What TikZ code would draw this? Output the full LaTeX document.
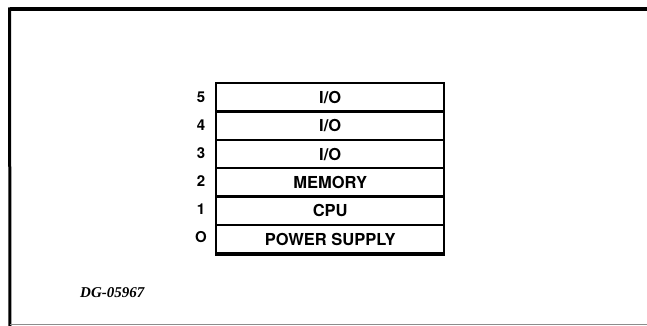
\documentclass[tikz,border=0pt]{standalone}
\usepackage{fontspec}
\setmainfont{TeX Gyre Heros}
\newfontfamily\dgfont{Liberation Serif}
\begin{document}
\begin{tikzpicture}[x=1pt,y=-1pt,
  slot/.style={draw, line width=2.4pt, minimum width=228pt, minimum height=28.33pt,
    inner sep=0pt, anchor=north west, font=\fontsize{16.5}{17}\selectfont\bfseries},
  num/.style={font=\fontsize{15}{15}\selectfont\bfseries, inner sep=0pt},
  frameline/.style={line width=3pt}
]
\useasboundingbox (0,0) rectangle (647,326);
% outer frame (open on the right)
\coordinate (fTL) at (10,9);
\coordinate (fTR) at (647,9);
\coordinate (fBL) at (10,326);
\draw[line width=4pt] (fTR) -- (fTL);
\draw[frameline] (9.5,7.5) -- (fBL);
\draw[line width=1.2pt, black!45] (10,324.5) -- (647,324.5);
% stack of slots
\node[slot] (s5) at (215,82) {I/O};
\node[slot] (s4) at (215,110.33) {I/O};
\node[slot] (s3) at (215,138.67) {I/O};
\node[slot] (s2) at (215,167) {MEMORY};
\node[slot] (s1) at (215,195.33) {CPU};
\node[slot] (s0) at (215,223.67) {POWER SUPPLY};
\draw[line width=3.4pt] (s0.south west) -- (s0.south east);
% slot numbers
\node[num] (n5) at (201,97) {5};
\node[num] (n4) at (201,125) {4};
\node[num] (n3) at (201,153) {3};
\node[num] (n2) at (201,181) {2};
\node[num] (n1) at (201,209) {1};
\node[num] (n0) at (201,237) {O};
% figure id
\node[font=\dgfont\bfseries\itshape\fontsize{15}{16}\selectfont, inner sep=0pt, anchor=west] (dg) at (80,293) {DG-05967};
\end{tikzpicture}
\end{document}
